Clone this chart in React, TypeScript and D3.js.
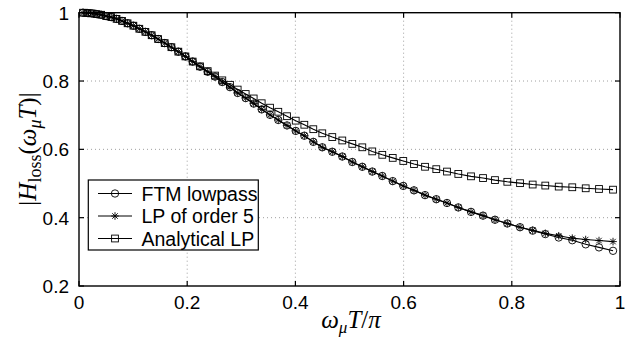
import React from 'react';
import * as d3 from 'd3';

// normalized mode frequencies (omega_mu T / pi)
const freq = [
  0.0074, 0.0153, 0.0236, 0.0321, 0.0410, 0.0502, 0.0596, 0.0694, 0.0795, 0.0898,
  0.1005, 0.1115, 0.1227, 0.1343, 0.1462, 0.1584, 0.1708, 0.1836, 0.1967, 0.2101,
  0.2237, 0.2379, 0.2514, 0.2649, 0.2791, 0.2933, 0.3081, 0.3229, 0.3377, 0.3531,
  0.3684, 0.3845, 0.4006, 0.4165, 0.4331, 0.4497, 0.4682, 0.4867, 0.5052, 0.5237,
  0.5421, 0.5606, 0.5799, 0.5994, 0.6192, 0.6396, 0.6604, 0.6802, 0.7011, 0.7246,
  0.7468, 0.7689, 0.7917, 0.8152, 0.8386, 0.8619, 0.8867, 0.9118, 0.9366, 0.9612,
  0.9871,
];

const ftmLowpass = [
  1.000, 0.999, 0.998, 0.996, 0.994, 0.990, 0.987, 0.982, 0.976, 0.969,
  0.962, 0.953, 0.944, 0.934, 0.923, 0.911, 0.899, 0.886, 0.872, 0.857,
  0.842, 0.827, 0.813, 0.797, 0.782, 0.765, 0.750, 0.734, 0.717, 0.701,
  0.686, 0.670, 0.654, 0.640, 0.622, 0.606, 0.593, 0.579, 0.563, 0.549,
  0.535, 0.522, 0.507, 0.493, 0.480, 0.466, 0.454, 0.443, 0.430, 0.417,
  0.406, 0.394, 0.383, 0.372, 0.362, 0.352, 0.342, 0.334, 0.322, 0.313,
  0.303,
];

const lpOrder5 = [
  1.000, 0.999, 0.998, 0.996, 0.994, 0.990, 0.987, 0.982, 0.976, 0.969,
  0.962, 0.953, 0.944, 0.934, 0.923, 0.911, 0.899, 0.886, 0.872, 0.857,
  0.842, 0.827, 0.813, 0.797, 0.782, 0.765, 0.750, 0.734, 0.717, 0.701,
  0.686, 0.670, 0.654, 0.640, 0.622, 0.606, 0.593, 0.579, 0.563, 0.549,
  0.535, 0.522, 0.507, 0.493, 0.480, 0.466, 0.454, 0.443, 0.430, 0.417,
  0.406, 0.394, 0.383, 0.372, 0.363, 0.354, 0.347, 0.340, 0.336, 0.333,
  0.330,
];

const analyticalLp = [
  1.000, 0.999, 0.998, 0.996, 0.994, 0.990, 0.987, 0.982, 0.976, 0.969,
  0.962, 0.953, 0.944, 0.934, 0.923, 0.911, 0.899, 0.886, 0.872, 0.857,
  0.843, 0.829, 0.816, 0.802, 0.789, 0.775, 0.762, 0.749, 0.735, 0.722,
  0.710, 0.697, 0.684, 0.672, 0.659, 0.647, 0.636, 0.626, 0.616, 0.606,
  0.594, 0.584, 0.575, 0.566, 0.557, 0.549, 0.542, 0.535, 0.528, 0.521,
  0.516, 0.510, 0.505, 0.501, 0.497, 0.494, 0.491, 0.489, 0.486, 0.484,
  0.482,
];

const xTicks = [0, 0.2, 0.4, 0.6, 0.8, 1];
const yTicks = [0.2, 0.4, 0.6, 0.8, 1];
const legendLabels = ['FTM lowpass', 'LP of order 5', 'Analytical LP'];

const W = 642;
const H = 338;
const left = 79;
const right = 620;
const top = 12.7;
const bottom = 286;

const sans = 'Liberation Sans, Arial, sans-serif';
const serif = 'Liberation Serif, Times New Roman, serif';

function Marker({ kind, x, y }: { kind: string; x: number; y: number }) {
  if (kind === 'circle') {
    return <circle cx={x} cy={y} r={3.7} fill="none" stroke="#000" strokeWidth={0.9} />;
  }
  if (kind === 'square') {
    return <rect x={x - 3.4} y={y - 3.4} width={6.8} height={6.8} fill="none" stroke="#000" strokeWidth={0.9} />;
  }
  const r = 3.8;
  const d = r * 0.72;
  return (
    <path
      d={`M${x},${y - r}V${y + r}M${x - r},${y}H${x + r}M${x - d},${y - d}L${x + d},${y + d}M${x - d},${y + d}L${x + d},${y - d}`}
      stroke="#000"
      strokeWidth={0.9}
      fill="none"
    />
  );
}

export default function App() {
  const x = d3.scaleLinear().domain([0, 1]).range([left, right]);
  const y = d3.scaleLinear().domain([0.2, 1]).range([bottom, top]);

  const series = [
    { values: ftmLowpass, kind: 'circle' },
    { values: lpOrder5, kind: 'star' },
    { values: analyticalLp, kind: 'square' },
  ];

  const line = d3
    .line<number>()
    .x((_, i) => x(freq[i]))
    .y((v) => y(v));

  const legendRows = [193.5, 216, 238.5];

  return (
    <svg
      width={W}
      height={H}
      style={{ position: 'absolute', left: 0, top: 0, background: '#fff' }}
      xmlns="http://www.w3.org/2000/svg"
    >
      <rect x={0} y={0} width={W} height={H} fill="#fff" />

      {/* grid */}
      {xTicks.slice(1, -1).map((t) => (
        <line key={'gx' + t} x1={x(t)} x2={x(t)} y1={top} y2={bottom} stroke="#888" strokeWidth={0.8} strokeDasharray="1,3" />
      ))}
      {yTicks.slice(1, -1).map((t) => (
        <line key={'gy' + t} x1={left} x2={right} y1={y(t)} y2={y(t)} stroke="#888" strokeWidth={0.8} strokeDasharray="1,3" />
      ))}

      {/* series */}
      {series.map((s) => (
        <g key={s.kind}>
          <path d={line(s.values) || ''} fill="none" stroke="#000" strokeWidth={1.1} />
          {s.values.map((v, i) => (
            <Marker key={i} kind={s.kind} x={x(freq[i])} y={y(v)} />
          ))}
        </g>
      ))}

      {/* axes box and ticks */}
      <rect x={left} y={top} width={right - left} height={bottom - top} fill="none" stroke="#000" strokeWidth={1.4} />
      {xTicks.map((t) => (
        <g key={'tx' + t}>
          <line x1={x(t)} x2={x(t)} y1={bottom} y2={bottom - 5} stroke="#000" strokeWidth={1.2} />
          <line x1={x(t)} x2={x(t)} y1={top} y2={top + 5} stroke="#000" strokeWidth={1.2} />
          <text x={x(t)} y={308.5} textAnchor="middle" fontFamily={sans} fontSize={19}>
            {String(t)}
          </text>
        </g>
      ))}
      {yTicks.map((t) => (
        <g key={'ty' + t}>
          <line x1={left} x2={left + 5} y1={y(t)} y2={y(t)} stroke="#000" strokeWidth={1.2} />
          <line x1={right} x2={right - 5} y1={y(t)} y2={y(t)} stroke="#000" strokeWidth={1.2} />
          <text x={69} y={y(t)} dy="0.36em" textAnchor="end" fontFamily={sans} fontSize={19}>
            {String(t)}
          </text>
        </g>
      ))}

      {/* axis labels */}
      <text x={351} y={328} textAnchor="middle" fontFamily={serif} fontSize={25}>
        <tspan fontStyle="italic">ω</tspan>
        <tspan fontStyle="italic" fontSize={17} dy={5}>μ</tspan>
        <tspan fontStyle="italic" dy={-5}>T</tspan>
        <tspan>/</tspan>
        <tspan fontStyle="italic">π</tspan>
      </text>
      <text transform="translate(36,149) rotate(-90)" textAnchor="middle" fontFamily={serif} fontSize={25}>
        <tspan>|</tspan>
        <tspan fontStyle="italic">H</tspan>
        <tspan fontSize={18} dy={5}>loss</tspan>
        <tspan dy={-5}>(</tspan>
        <tspan fontStyle="italic">ω</tspan>
        <tspan fontStyle="italic" fontSize={18} dy={5}>μ</tspan>
        <tspan fontStyle="italic" dy={-5}>T</tspan>
        <tspan>)|</tspan>
      </text>

      {/* legend */}
      <rect x={88.3} y={180} width={170} height={70} fill="#fff" stroke="#000" strokeWidth={1.2} />
      {series.map((s, i) => (
        <g key={'lg' + i}>
          <line x1={98} x2={132} y1={legendRows[i]} y2={legendRows[i]} stroke="#000" strokeWidth={1} />
          <Marker kind={s.kind} x={115} y={legendRows[i]} />
          <text x={141.5} y={legendRows[i]} dy="0.36em" fontFamily={sans} fontSize={19.5}>
            {legendLabels[i]}
          </text>
        </g>
      ))}
    </svg>
  );
}
